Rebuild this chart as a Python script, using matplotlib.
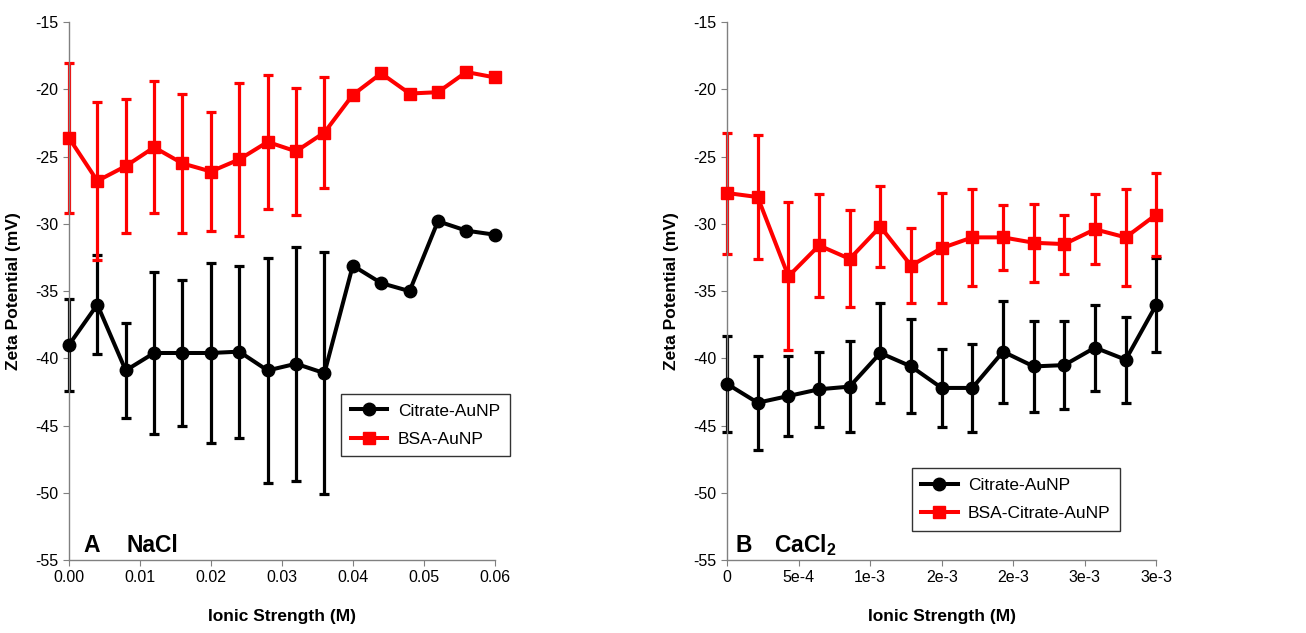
import numpy as np
import matplotlib
matplotlib.use("Agg")
import matplotlib.pyplot as plt

plt.rcParams['font.family'] = ['Liberation Sans', 'DejaVu Sans']
plt.rcParams['mathtext.fontset'] = 'custom'
plt.rcParams['mathtext.rm'] = 'Liberation Sans'
plt.rcParams['mathtext.bf'] = 'Liberation Sans:bold'
plt.rcParams['axes.unicode_minus'] = False

# panel A, NaCl
nacl_x = [0.000, 0.004, 0.008, 0.012, 0.016, 0.020, 0.024, 0.028,
          0.032, 0.036, 0.040, 0.044, 0.048, 0.052, 0.056, 0.060]
nacl_cit = [-39.0, -36.0, -40.9, -39.6, -39.6, -39.6, -39.5, -40.9,
            -40.4, -41.1, -33.1, -34.4, -35.0, -29.8, -30.5, -30.8]
nacl_cit_err = [3.4, 3.7, 3.5, 6.0, 5.4, 6.7, 6.4, 8.4, 8.7, 9.0]
nacl_bsa = [-23.6, -26.8, -25.7, -24.3, -25.5, -26.1, -25.2, -23.9,
            -24.6, -23.2, -20.4, -18.8, -20.3, -20.2, -18.7, -19.1]
nacl_bsa_err = [5.6, 5.9, 5.0, 4.9, 5.2, 4.4, 5.7, 5.0, 4.7, 4.1]

# panel B, CaCl2
cacl_x = [0.0, 0.000214, 0.000429, 0.000643, 0.000857, 0.001071, 0.001286,
          0.0015, 0.001714, 0.001929, 0.002143, 0.002357, 0.002571,
          0.002786, 0.003]
cacl_cit = [-41.9, -43.3, -42.8, -42.3, -42.1, -39.6, -40.6, -42.2,
            -42.2, -39.5, -40.6, -40.5, -39.2, -40.1, -36.0]
cacl_cit_err = [3.6, 3.5, 3.0, 2.8, 3.4, 3.7, 3.5, 2.9, 3.3, 3.8, 3.4,
                3.3, 3.2, 3.2, 3.5]
cacl_bsa = [-27.7, -28.0, -33.9, -31.6, -32.6, -30.2, -33.1, -31.8,
            -31.0, -31.0, -31.4, -31.5, -30.4, -31.0, -29.3]
cacl_bsa_err = [4.5, 4.6, 5.5, 3.8, 3.6, 3.0, 2.8, 4.1, 3.6, 2.4, 2.9,
                2.2, 2.6, 3.6, 3.1]
cacl_ticks = [0, 0.0005, 0.001, 0.0015, 0.002, 0.0025, 0.003]
cacl_ticklabels = ['0', '5e-4', '1e-3', '2e-3', '2e-3', '3e-3', '3e-3']

RED = '#ff0000'
BLACK = '#000000'


def style_axes(ax):
    for s in ['top', 'right']:
        ax.spines[s].set_visible(False)
    for s in ['left', 'bottom']:
        ax.spines[s].set_color('#808080')
        ax.spines[s].set_linewidth(1.0)
    ax.tick_params(colors='#808080', labelcolor='black', labelsize=11.5,
                   direction='out', length=4)
    ax.set_ylim(-55, -15)
    ax.set_yticks(np.arange(-55, -14, 5))
    ax.set_xlabel('Ionic Strength (M)', fontsize=12.5, fontweight='bold',
                  labelpad=17)
    ax.set_ylabel('Zeta Potential (mV)', fontsize=12.5, fontweight='bold',
                  labelpad=10)


def draw(ax, x, y, err, color, marker, ms, label):
    n = len(err)
    eb = ax.errorbar(x[:n], y[:n], yerr=err, fmt='none', ecolor=color,
                     elinewidth=2.3, capsize=3.5, capthick=2.3, zorder=2)
    for part in eb.lines[1] + eb.lines[2]:
        part.set_clip_on(False)
    ax.plot(x, y, color=color, lw=2.9, marker=marker, ms=ms,
            label=label, zorder=3, clip_on=False)


def add_legend(ax, anchor):
    ax.legend(loc='upper left', bbox_to_anchor=anchor, borderaxespad=0,
              fontsize=12.5, frameon=True, fancybox=False,
              edgecolor='black', handlelength=2.1, handletextpad=0.6,
              borderpad=0.55, labelspacing=0.75)


fig = plt.figure(figsize=(13.06, 6.33), dpi=100)
ax1 = fig.add_axes([0.0528, 0.1153, 0.326, 0.8495])
ax2 = fig.add_axes([0.5567, 0.1153, 0.3287, 0.8495])

draw(ax1, nacl_x, nacl_cit, nacl_cit_err, BLACK, 'o', 9, 'Citrate-AuNP')
draw(ax1, nacl_x, nacl_bsa, nacl_bsa_err, RED, 's', 8, 'BSA-AuNP')
ax1.set_xlim(0, 0.06)
ax1.set_xticks(np.arange(0, 0.061, 0.01))
ax1.set_xticklabels(['0.00', '0.01', '0.02', '0.03', '0.04', '0.05', '0.06'])
style_axes(ax1)
add_legend(ax1, (0.64, 0.309))
ax1.text(0.033, 0.015, 'A', transform=ax1.transAxes, fontsize=16.5,
         fontweight='bold')
ax1.text(0.136, 0.015, 'NaCl', transform=ax1.transAxes, fontsize=16.5,
         fontweight='bold')

draw(ax2, cacl_x, cacl_cit, cacl_cit_err, BLACK, 'o', 9, 'Citrate-AuNP')
draw(ax2, cacl_x, cacl_bsa, cacl_bsa_err, RED, 's', 8, 'BSA-Citrate-AuNP')
ax2.set_xlim(0, 0.003)
ax2.set_xticks(cacl_ticks)
ax2.set_xticklabels(cacl_ticklabels)
style_axes(ax2)
add_legend(ax2, (0.43, 0.1705))
ax2.text(0.019, 0.015, 'B', transform=ax2.transAxes, fontsize=16.5,
         fontweight='bold')
ax2.text(0.11, 0.015, r'$\mathbf{CaCl_2}$', transform=ax2.transAxes,
         fontsize=16.5)

fig.savefig('out.png', dpi=100)
